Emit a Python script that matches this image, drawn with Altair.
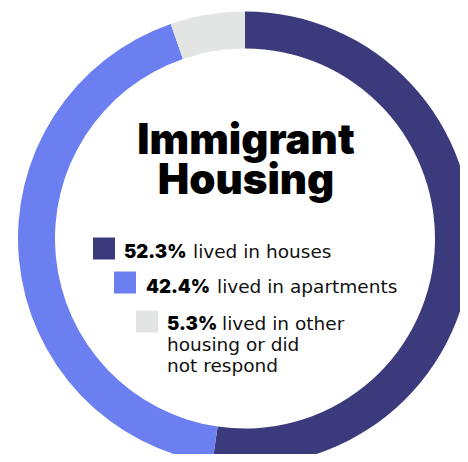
import altair as alt
import pandas as pd

# ---- data ----
categories = ["Houses", "Apartments", "Other housing or no response"]
shares = [52.3, 42.4, 5.3]
pct_labels = ["52.3%", "42.4%", "5.3%"]
desc_labels = ["lived in houses", "lived in apartments", "lived in other\nhousing or did\nnot respond"]
title_text = ["Immigrant\nHousing"]
colors = ["#3a3a7c", "#6b7ff1", "#e2e5e4"]

df = pd.DataFrame({"category": categories, "share": shares, "order": [0, 1, 2],
                   "pct": pct_labels, "desc": desc_labels})

OFF = 8  # page margin
W, H = 452, 446
cx, cy = 245 - OFF, 238.5 - OFF

color_scale = alt.Scale(domain=categories, range=colors)

donut = alt.Chart(df).mark_arc(innerRadius=190, outerRadius=227).encode(
    theta=alt.Theta("share:Q", stack=True),
    color=alt.Color("category:N", scale=color_scale, legend=None),
    order=alt.Order("order:Q"),
    x=alt.value(cx),
    y=alt.value(cy),
)

title_df = pd.DataFrame({"title": title_text})
title = alt.Chart(title_df).mark_text(
    font="Inter", fontWeight=900, fontSize=42, align="center", baseline="alphabetic",
    color="#000000", lineBreak="\n", lineHeight=40
).encode(text="title:N", x=alt.value(246 - OFF), y=alt.value(154 - OFF))

# legend rows: square centre, pct x, desc x, baseline y
rows = [
    (104, 248.5, 124, 193, 258),
    (125, 282.5, 146, 217, 293),
    (147, 321.5, 167, 222, 330),
]
DESC_FONT = dict(font="DejaVu Sans", fontWeight=400, fontSize=18.5, align="left",
                 baseline="alphabetic", color="#111111")
layers = [donut, title]
for i, (sx, sy, px, dx, by) in enumerate(rows):
    base = alt.Chart(df).transform_filter(alt.datum.order == i)
    layers.append(base.mark_square(size=484, opacity=1).encode(
        color=alt.Color("category:N", scale=color_scale, legend=None),
        x=alt.value(sx - OFF), y=alt.value(sy - OFF)))
    layers.append(base.mark_text(font="Inter", fontWeight=900, fontSize=18.5, align="left",
                                 baseline="alphabetic", color="#000000").encode(
        text="pct:N", x=alt.value(px - OFF), y=alt.value(by - OFF)))
    if i < 2:
        layers.append(base.mark_text(**DESC_FONT).encode(
            text="desc:N", x=alt.value(dx - OFF), y=alt.value(by - OFF)))
    else:
        parts = desc_labels[2].split("\n")
        xs = [dx, px, px]
        for j, part in enumerate(parts):
            layers.append(base.transform_calculate(line=f"split(datum.desc, '\\n')[{j}]").mark_text(
                **DESC_FONT).encode(
                text="line:N", x=alt.value(xs[j] - OFF), y=alt.value(by + 21 * j - OFF)))

chart = alt.layer(*layers).properties(
    width=W, height=H, padding=0, autosize=alt.AutoSizeParams(type="none")
).configure_view(stroke=None)

chart.save("out.html", embed_options={"renderer": "svg", "actions": False})
